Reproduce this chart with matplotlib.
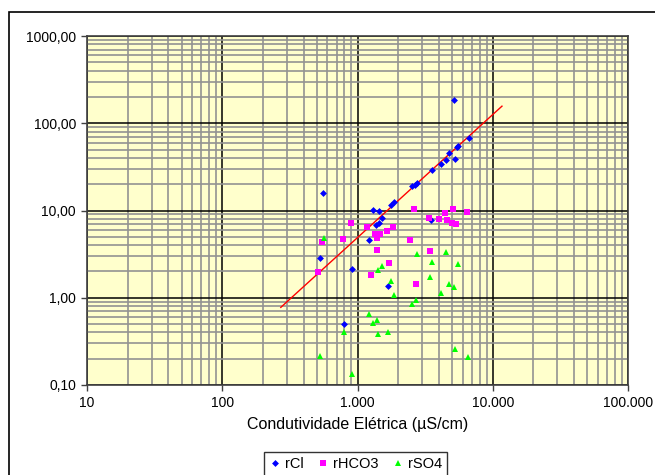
import numpy as np
import matplotlib.pyplot as plt
import matplotlib.ticker as mticker
from matplotlib.patches import Rectangle

plt.rcParams['font.family'] = ['Liberation Sans', 'DejaVu Sans']

# condutividade (uS/cm) e valores em meq/L
cl_x = [5150, 557, 6650, 5540, 5400, 4730, 4550, 5270, 4150, 3540, 2760, 2650, 2530,
        1855, 1771, 1297, 1430, 1520, 1430, 1380, 3480, 1219, 524, 908, 1694, 796]
cl_y = [187, 15.8, 67.3, 55.4, 53.0, 46, 38.3, 38.5, 34.1, 28.8, 20.4, 19.7, 18.9,
        12.4, 11.5, 10.1, 9.8, 8.2, 7.28, 6.85, 7.8, 4.57, 2.84, 2.12, 1.37, 0.50]

hco3_x = [2620, 5120, 6430, 4400, 3365, 4010, 4570, 5000, 5360, 888, 1185, 1815, 1655,
          1358, 1479, 1389, 775, 545, 2465, 1389, 3440, 1723, 511, 1262, 2700]
hco3_y = [10.5, 10.5, 9.6, 9.3, 8.1, 8.0, 7.8, 7.28, 7.03, 7.22, 6.45, 6.48, 5.89,
          5.44, 5.44, 4.86, 4.73, 4.33, 4.6, 3.53, 3.44, 2.49, 1.97, 1.81, 1.44]

so4_x = [561, 2760, 4500, 3540, 5510, 1520, 1420, 3440, 1771, 4710, 5150, 1855, 4130,
         2700, 2530, 1219, 1389, 1297, 1694, 1420, 796, 5270, 6610, 524, 908]
so4_y = [4.82, 3.15, 3.33, 2.59, 2.44, 2.30, 2.07, 1.74, 1.57, 1.43, 1.32, 1.07, 1.14,
         0.93, 0.85, 0.645, 0.55, 0.516, 0.41, 0.38, 0.40, 0.262, 0.212, 0.214, 0.135]

# linha de tendencia (extremos lidos)
trend_x = [271, 11700]
trend_y = [0.776, 157]

fig = plt.figure(figsize=(6.55, 4.75), dpi=100)
ax = fig.add_axes([87 / 655, 1 - 385 / 475, 541 / 655, 349 / 475])
ax.set_facecolor('#FFFFCC')

ax.set_xscale('log')
ax.set_yscale('log')
ax.set_xlim(10, 100000)
ax.set_ylim(0.1, 1000)

ax.xaxis.set_minor_locator(mticker.LogLocator(base=10, subs=np.arange(2, 10)))
ax.yaxis.set_minor_locator(mticker.LogLocator(base=10, subs=np.arange(2, 10)))
ax.grid(which='minor', color='#929292', lw=1.2)
ax.grid(which='major', color='black', lw=1.1)
ax.set_axisbelow(True)

ax.xaxis.set_major_formatter(mticker.FuncFormatter(lambda v, p: f'{v:,.0f}'.replace(',', '.')))
ax.yaxis.set_major_formatter(mticker.FuncFormatter(lambda v, p: f'{v:.2f}'.replace('.', ',')))
ax.tick_params(which='minor', length=0)
ax.tick_params(which='major', length=4, width=1, color='#404040', labelsize=10, pad=4)
for s in ax.spines.values():
    s.set_color('#404040')
    s.set_linewidth(1.2)

ax.plot(trend_x, trend_y, color='#FF0000', lw=1.0, zorder=2)
ax.plot(cl_x, cl_y, 'D', color='#0000FF', ms=3.5, mew=0, label='rCl', zorder=3)
ax.plot(hco3_x, hco3_y, 's', color='#FF00FF', ms=3.8, mew=0, label='rHCO3', zorder=3)
ax.plot(so4_x, so4_y, '^', color='#00FF00', ms=5, mew=0, label='rSO4', zorder=3)

ax.set_xlabel('Condutividade Elétrica (µS/cm)', fontsize=11.5, labelpad=5)

leg = fig.legend(loc='upper left', bbox_to_anchor=(264 / 655, 1 - 452 / 475), ncol=3,
                 fontsize=10.5, frameon=True, fancybox=False, handlelength=0.8,
                 handletextpad=0.3, columnspacing=0.9, borderpad=0.35, borderaxespad=0)
leg.get_frame().set_edgecolor('black')
leg.get_frame().set_linewidth(1)

# moldura externa
fig.patches.append(Rectangle((9 / 655, -0.1), 1.2, 1 - 12 / 475 + 0.1, transform=fig.transFigure,
                             fill=False, edgecolor='black', lw=1.2))

fig.savefig('out.png', dpi=100)
